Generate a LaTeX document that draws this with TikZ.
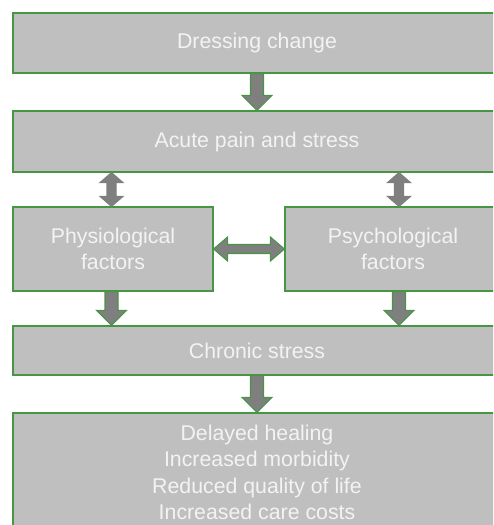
\documentclass[tikz,border=0pt]{standalone}
\usepackage{fontspec}
\setmainfont{Liberation Sans}
\usetikzlibrary{calc}

\definecolor{boxgray}{RGB}{191,191,191}
\definecolor{boxgreen}{RGB}{70,150,70}
\definecolor{arrgray}{RGB}{127,127,127}
\definecolor{txtwhite}{RGB}{243,243,243}

% block arrow down: x of #2, from y of #2 to y of #3
\newcommand{\bdown}[3][boxgreen]{%
\draw[barrow,draw=#1] let \p1=(#2), \p2=(#3) in
 (\x1-6.5pt,\y1) -- (\x1+6.5pt,\y1) -- (\x1+6.5pt,\y2+15pt) -- (\x1+15pt,\y2+15pt)
 -- (\x1,\y2) -- (\x1-15pt,\y2+15pt) -- (\x1-6.5pt,\y2+15pt) -- cycle;}

% block arrow up and down
\newcommand{\bupdown}[3][arrgray]{%
\draw[barrow,draw=#1] let \p1=(#2), \p2=(#3) in
 (\x1,\y1) -- (\x1+11.5pt,\y1-10pt) -- (\x1+4.5pt,\y1-10pt) -- (\x1+4.5pt,\y2+10pt)
 -- (\x1+11.5pt,\y2+10pt) -- (\x1,\y2) -- (\x1-11.5pt,\y2+10pt) -- (\x1-4.5pt,\y2+10pt)
 -- (\x1-4.5pt,\y1-10pt) -- (\x1-11.5pt,\y1-10pt) -- cycle;}

% block arrow left and right
\newcommand{\bleftright}[3][boxgreen]{%
\draw[barrow,draw=#1] let \p1=(#2), \p2=(#3) in
 (\x1,\y1) -- (\x1+14pt,\y1+12pt) -- (\x1+14pt,\y1+4.5pt) -- (\x2-14pt,\y1+4.5pt)
 -- (\x2-14pt,\y1+12pt) -- (\x2,\y1) -- (\x2-14pt,\y1-12pt) -- (\x2-14pt,\y1-4.5pt)
 -- (\x1+14pt,\y1-4.5pt) -- (\x1+14pt,\y1-12pt) -- cycle;}

\begin{document}
\begin{tikzpicture}[x=1pt,y=-1pt,
 box/.style={draw=boxgreen,line width=1.2pt,fill=boxgray,text=txtwhite,inner sep=0pt,
  align=center,font=\fontsize{21.3}{26.3}\selectfont},
 barrow/.style={fill=arrgray,line width=1.1pt,line join=miter}]

\clip (0,0) rectangle (493,525);

\node[box,minimum width=488pt,minimum height=60pt] (dress) at (257,43) {Dressing change};
\node[box,minimum width=488pt,minimum height=61pt] (acute) at (257,141.5) {Acute pain and stress};
\node[box,minimum width=200pt,minimum height=84pt] (physio) at (113,249) {Physiological\\factors};
\node[box,minimum width=216pt,minimum height=84pt] (psycho) at (393,249) {Psychological\\factors};
\node[box,minimum width=488pt,minimum height=49pt] (chronic) at (257,350.5) {Chronic stress};
\node[box,minimum width=488pt,minimum height=119pt] (effects) at (257,472.5) {Delayed healing\\Increased morbidity\\Reduced quality of life\\Increased care costs};

\bdown{dress.south}{acute.north}

\bupdown{$(acute.south -| physio.north)+(-1.5,0)$}{physio.north}
\bupdown{$(acute.south -| psycho.north)+(6,0)$}{psycho.north}
\bleftright{physio.east}{psycho.west}

\bdown{$(physio.south)+(-1.5,0)$}{chronic.north}
\bdown{$(psycho.south)+(6,0)$}{chronic.north}

\bdown{chronic.south}{effects.north}
\end{tikzpicture}
\end{document}
